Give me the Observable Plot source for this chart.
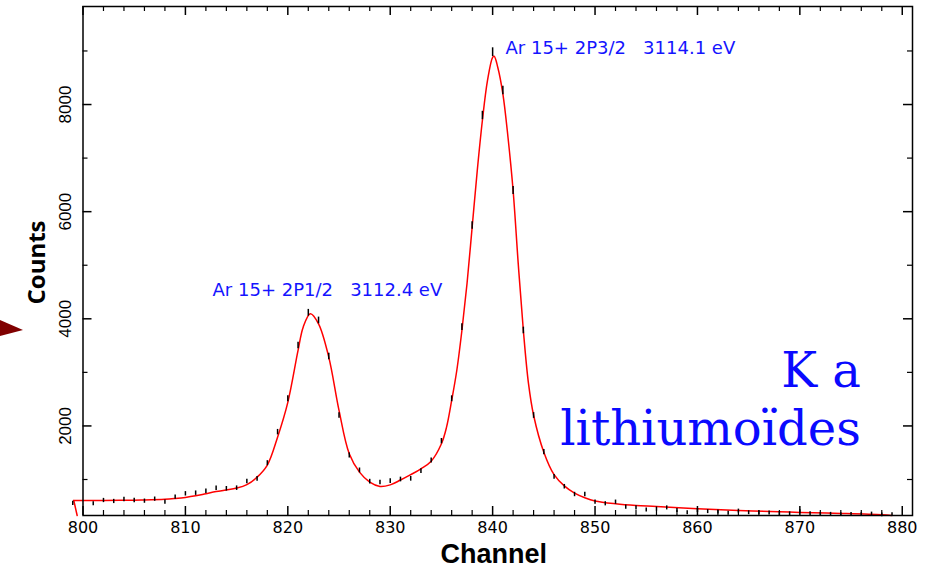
<!DOCTYPE html>
<html><head><meta charset="utf-8">
<script src="https://cdn.jsdelivr.net/npm/d3@7"></script>
<script src="https://cdn.jsdelivr.net/npm/@observablehq/plot@0.6"></script>
<style>
html,body{margin:0;padding:0;background:#fff;}
#chart{position:relative;width:932px;height:569px;overflow:hidden;}
#chart svg text{white-space:pre;}
#marker{position:absolute;left:0;top:0;}
</style></head><body>
<div id="chart"></div>
<script>
// measured spectrum (channel, counts)
const channels = [799,801,802,803,804,805,806,807,808,809,810,811,812,813,814,815,816,817,818,819,820,821,822,823,824,825,826,827,828,829,830,831,832,833,834,835,836,837,838,839,840,841,842,843,844,845,846,847,848,849,850,851,852,853,854,855,856,857,858,859,860,861,862,863,864,865,866,867,868,869,870,871,872,873,874,875,876,877,878,879];
const counts = [553,547,608,590,627,608,596,633,577,670,733,745,782,838,827,838,963,1013,1305,1884,2507,3502,4112,3969,3297,2195,1449,1169,960,944,969,1000,1013,1156,1355,1716,2507,3844,5742,7795,8977,8262,6395,3782,2195,1510,1050,865,720,720,577,547,577,484,470,430,450,470,420,380,420,400,395,370,410,380,380,375,365,360,400,360,350,350,345,350,345,355,340,345];
// fitted curve
const fitChannels = [799.1,800,802,804,806,808,809,810,811,812,813,814,815,816,817,818,819,820,821,821.5,822.2,823,824,825,826,827,828,829,830,831,832,833,834,835,835.5,836,836.5,837,837.5,838,838.5,839,839.5,840,840.15,840.5,841,841.5,842,842.5,843,843.5,844,845,846,847,848,849,850,852,854,856,860,864,868,870,874,878,879];
const fitCounts = [608,608,610,613,618,630,645,665,695,735,775,805,840,905,1044,1270,1790,2440,3409,3844,4095,3907,3284,2289,1480,1137,950,870,900,990,1090,1200,1342,1667,1977,2475,3035,3782,4659,5710,6769,7702,8449,8880,8900,8697,8200,7390,6395,5030,3782,2793,2200,1510,1090,880,745,660,600,547,515,497,453,422,398,385,366,341,328];
const tailChannels = [799.43, 799.1];
const tailCounts = [328, 608];
// axes
const xMajorTicks = [800,810,820,830,840,850,860,870,880];
const xMinorTicks = d3.range(802, 880, 2).filter(v => v % 10 !== 0);
const yMajorTicks = [2000,4000,6000,8000];
const yMinorTicks = [1000,3000,5000,7000,9000];
const xTitle = "Channel";
const yTitle = "Counts";
// annotations
const peakLabels = ["Ar 15+ 2P1/2   3112.4 eV", "Ar 15+ 2P3/2   3114.1 eV"];
const peakLabelX = [812.65, 841.26];
const peakLabelY = [4417, 8934];
const titleLines = ["K a", "lithiumoïdes"];
const titleX = [875.96, 875.96];
const titleY = [2718, 1653];

const W = 932, H = 569, mt = 6, mb = 54, ml = 82.5, mr = 20;
const innerH = H - mt - mb, innerW = W - ml - mr;
const data = channels.map((c, i) => ({x: c, y: counts[i]}));
const fit = fitChannels.map((c, i) => ({x: c, y: fitCounts[i]}));
const tail = tailChannels.map((c, i) => ({x: c, y: tailCounts[i]}));
const peaks = peakLabels.map((t, i) => ({t, x: peakLabelX[i], y: peakLabelY[i]}));
const titles = titleLines.map((t, i) => ({t, x: titleX[i], y: titleY[i]}));
const err = d => 25 + 0.6 * Math.sqrt(d.y);
const majorLen = 9, minorLen = 5;

const chart = Plot.plot({
  width: W, height: H,
  marginTop: mt, marginBottom: mb, marginLeft: ml, marginRight: mr,
  x: {domain: [800, 881], axis: null},
  y: {domain: [328, 9830], axis: null},
  style: {background: "white", overflow: "visible"},
  marks: [
    Plot.line(fit, {x: "x", y: "y", stroke: "#ff0000", strokeWidth: 1.5, curve: "catmull-rom"}),
    Plot.line(tail, {x: "x", y: "y", stroke: "#ff0000", strokeWidth: 1.5}),
    Plot.ruleX(data, {x: "x", y1: d => d.y - err(d), y2: d => d.y + err(d), stroke: "black", strokeWidth: 1.5}),
    // ticks (inward)
    Plot.tickX(xMajorTicks, {x: d => d, insetTop: innerH - majorLen, stroke: "black", strokeWidth: 1.5}),
    Plot.tickX(xMinorTicks, {x: d => d, insetTop: innerH - minorLen, stroke: "black", strokeWidth: 1.2}),
    Plot.tickX(xMajorTicks, {x: d => d, insetBottom: innerH - majorLen, stroke: "black", strokeWidth: 1.5}),
    Plot.tickX(xMinorTicks, {x: d => d, insetBottom: innerH - minorLen, stroke: "black", strokeWidth: 1.2}),
    Plot.tickY(yMajorTicks, {y: d => d, insetRight: innerW - majorLen, stroke: "black", strokeWidth: 1.5}),
    Plot.tickY(yMinorTicks, {y: d => d, insetRight: innerW - minorLen, stroke: "black", strokeWidth: 1.2}),
    Plot.tickY(yMajorTicks, {y: d => d, insetLeft: innerW - majorLen, stroke: "black", strokeWidth: 1.5}),
    Plot.tickY(yMinorTicks, {y: d => d, insetLeft: innerW - minorLen, stroke: "black", strokeWidth: 1.2}),
    Plot.frame({stroke: "black", strokeWidth: 1.5}),
    // tick labels
    Plot.text(xMajorTicks, {x: d => d, frameAnchor: "bottom", dy: 6, lineAnchor: "top", textAnchor: "middle", text: d => String(d),
      fontFamily: "DejaVu Sans", fontSize: 16, fill: "black"}),
    Plot.text(yMajorTicks, {y: d => d, frameAnchor: "left", dx: -12, rotate: -90, textAnchor: "middle", lineAnchor: "bottom", text: d => String(d),
      fontFamily: "Liberation Sans", fontSize: 17, fill: "black"}),
    // axis titles
    Plot.text([xTitle], {frameAnchor: "bottom", dx: -4, dy: 47, textAnchor: "middle", lineAnchor: "bottom", text: d => d,
      fontFamily: "Liberation Sans", fontWeight: "bold", fontSize: 27, fill: "black"}),
    Plot.text([yTitle], {frameAnchor: "left", dx: -38.5, dy: 1.5, rotate: -90, textAnchor: "middle", lineAnchor: "bottom", text: d => d,
      fontFamily: "Open Sans", fontWeight: "bold", fontSize: 24, fill: "black"}),
    // annotations
    Plot.text(peaks, {x: "x", y: "y", text: "t", textAnchor: "start", lineAnchor: "bottom",
      fontFamily: "DejaVu Sans", fontSize: 18, fill: "#1414ff"}),
    Plot.text(titles, {x: "x", y: "y", text: "t", textAnchor: "end", lineAnchor: "bottom",
      fontFamily: "DejaVu Serif", fontSize: 48, fill: "#0a0aff"})
  ]
});
const host = document.getElementById("chart");
host.appendChild(chart);
host.insertAdjacentHTML("beforeend",
  '<svg id="marker" width="30" height="569"><polygon points="0,320 23,330 0,336" fill="#800000"/></svg>');
</script>
</body></html>
